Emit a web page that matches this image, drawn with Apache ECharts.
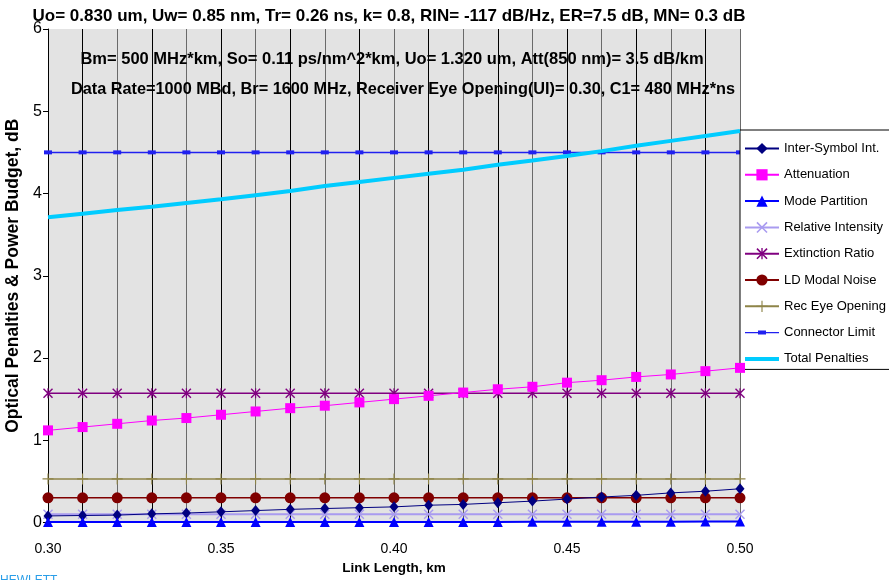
<!DOCTYPE html>
<html><head><meta charset="utf-8">
<script src="https://cdn.jsdelivr.net/npm/echarts@6/dist/echarts.min.js"></script>
<style>html,body{margin:0;padding:0;background:#fff}#c{width:889px;height:580px}</style>
</head><body><div id="c"></div>
<script>
const linkLength = [0.30,0.31,0.32,0.33,0.34,0.35,0.36,0.37,0.38,0.39,0.40,0.41,0.42,0.43,0.44,0.45,0.46,0.47,0.48,0.49,0.50];
const interSymbol = [0.08,0.085,0.09,0.105,0.115,0.13,0.145,0.16,0.17,0.18,0.19,0.21,0.22,0.24,0.26,0.285,0.31,0.33,0.36,0.38,0.41];
const attenuation = [1.12,1.16,1.20,1.24,1.27,1.31,1.35,1.39,1.42,1.46,1.50,1.54,1.58,1.62,1.65,1.70,1.73,1.77,1.80,1.84,1.88];
const modePartition = [0.005,0.005,0.005,0.005,0.005,0.005,0.005,0.005,0.005,0.005,0.006,0.006,0.007,0.007,0.008,0.008,0.009,0.01,0.01,0.011,0.012];
const relIntensity = [0.1,0.1,0.1,0.1,0.1,0.1,0.1,0.1,0.1,0.1,0.1,0.1,0.1,0.1,0.1,0.1,0.1,0.1,0.1,0.1,0.1];
const extinction = [1.57,1.57,1.57,1.57,1.57,1.57,1.57,1.57,1.57,1.57,1.57,1.57,1.57,1.57,1.57,1.57,1.57,1.57,1.57,1.57,1.57];
const modalNoise = [0.3,0.3,0.3,0.3,0.3,0.3,0.3,0.3,0.3,0.3,0.3,0.3,0.3,0.3,0.3,0.3,0.3,0.3,0.3,0.3,0.3];
const eyeOpening = [0.53,0.53,0.53,0.53,0.53,0.53,0.53,0.53,0.53,0.53,0.53,0.53,0.53,0.53,0.53,0.53,0.53,0.53,0.53,0.53,0.53];
const connectorLimit = [4.5,4.5,4.5,4.5,4.5,4.5,4.5,4.5,4.5,4.5,4.5,4.5,4.5,4.5,4.5,4.5,4.5,4.5,4.5,4.5,4.5];
const totalPenalties = [3.71,3.755,3.80,3.84,3.885,3.93,3.98,4.03,4.09,4.14,4.19,4.24,4.29,4.35,4.40,4.455,4.515,4.58,4.64,4.70,4.76];
const seriesNames = ['Inter-Symbol Int.','Attenuation','Mode Partition','Relative Intensity','Extinction Ratio','LD Modal Noise','Rec Eye Opening','Connector Limit','Total Penalties'];
const titleLines = ['Uo= 0.830 um, Uw= 0.85 nm, Tr= 0.26 ns, k= 0.8, RIN= -117 dB/Hz, ER=7.5 dB, MN= 0.3 dB',
  'Bm= 500 MHz*km, So= 0.11 ps/nm^2*km, Uo= 1.320 um, Att(850 nm)= 3.5 dB/km',
  'Data Rate=1000 MBd, Br= 1600 MHz, Receiver Eye Opening(UI)= 0.30, C1= 480 MHz*ns'];

const FONT = '"Liberation Sans", Arial, sans-serif';
const X_SYM = 'path://M0,1L1,0L5,4L9,0L10,1L6,5L10,9L9,10L5,6L1,10L0,9L4,5Z';
const AST_SYM = 'path://M0,1L1,0L5,4L9,0L10,1L6,5L10,9L9,10L5,6L1,10L0,9L4,5Z M4.4,0L5.6,0L5.6,10L4.4,10Z';
const PLUS_SYM = 'path://M4.5,0L5.5,0L5.5,4.5L10,4.5L10,5.5L5.5,5.5L5.5,10L4.5,10L4.5,5.5L0,5.5L0,4.5L4.5,4.5Z';
const CONN_ICON = 'path://M0,6.4L34,6.4L34,7.6L0,7.6Z M13,5L21,5L21,9L13,9Z';
const TOTAL_ICON = 'path://M0,5L34,5L34,9L0,9Z';

function pairs(arr){ return linkLength.map((x,i)=>[x,arr[i]]); }
function mk(name, arr, color, symbol, size, lw, z){
  return {name, type:'line', data:pairs(arr), symbol, symbolSize:size, showSymbol: symbol!=='none',
    lineStyle:{color, width:lw}, itemStyle:{color}, z:z||2, animation:false};
}
const legendData = seriesNames.map((n,i)=> i===7 ? {name:n, icon:CONN_ICON} : i===8 ? {name:n, icon:TOTAL_ICON} : {name:n});
const chart = echarts.init(document.getElementById('c'));
chart.setOption({
  animation:false,
  backgroundColor:'#fff',
  textStyle:{fontFamily:FONT},
  title: titleLines.map((t,i)=>({text:t, left: [384,387,398][i], textAlign:'center', top:[3,46,77][i],
     textStyle:{fontFamily:FONT, fontWeight:'bold', fontSize:[17,16.5,16.3][i], color:'#000'}})),
  graphic:[{type:'text', left:0, top:575, style:{text:'HEWLETT', fill:'#2a9ee8', font:'12px '+FONT}}],
  grid:{left:48, right:149, top:29, bottom:57.5, show:true, backgroundColor:'#e3e3e3', borderWidth:0, outerBoundsMode:'none', containLabel:false},
  legend:{orient:'vertical', left:740, top:130, data:legendData, backgroundColor:'#fff', borderColor:'#000', borderWidth:1,
     padding:[12,60,4,4], itemGap:13.3, itemWidth:34, itemHeight:14, textStyle:{fontFamily:FONT, fontSize:13, color:'#000'}},
  xAxis:{type:'value', min:0.3, max:0.5, interval:0.01,
    name:'Link Length, km', nameLocation:'middle', nameGap:37,
    nameTextStyle:{fontFamily:FONT, fontWeight:'bold', fontSize:13.5, color:'#000'},
    axisLine:{show:false}, axisTick:{show:false},
    axisLabel:{fontFamily:FONT, fontSize:14, color:'#000', margin:20,
      formatter:v=>{const k=Math.round(v*100); return k%5===0? (k/100).toFixed(2):'';}},
    splitLine:{show:true, lineStyle:{color:['#6a6a6a','#000'], width:1}}},
  yAxis:{type:'value', min:0, max:6, interval:1,
    name:'Optical Penalties & Power Budget, dB', nameLocation:'middle', nameGap:24, nameRotate:90,
    nameTextStyle:{fontFamily:FONT, fontWeight:'bold', fontSize:17.5, color:'#000'},
    axisLine:{show:true, lineStyle:{color:'#000', width:1}},
    axisTick:{show:true, length:5, lineStyle:{color:'#000'}},
    axisLabel:{fontFamily:FONT, fontSize:16, color:'#000', margin:6},
    splitLine:{show:false}},
  series:[
    mk(seriesNames[0], interSymbol, '#000080', 'diamond', [9,11], 1, 5),
    mk(seriesNames[1], attenuation, '#ff00ff', 'rect', 10, 1, 4),
    mk(seriesNames[2], modePartition, '#0000ff', 'triangle', 10, 2, 6),
    mk(seriesNames[3], relIntensity, '#a99bf0', X_SYM, 10, 2, 3),
    mk(seriesNames[4], extinction, '#800080', AST_SYM, 10, 1.5, 3),
    mk(seriesNames[5], modalNoise, '#800000', 'circle', 11, 1.5, 3),
    mk(seriesNames[6], eyeOpening, '#8e8448', PLUS_SYM, 11, 1.5, 3),
    mk(seriesNames[7], connectorLimit, '#2020f0', 'rect', [8,4], 1.5, 3),
    mk(seriesNames[8], totalPenalties, '#00ccff', 'none', 0, 4, 7)
  ]
});
</script></body></html>
